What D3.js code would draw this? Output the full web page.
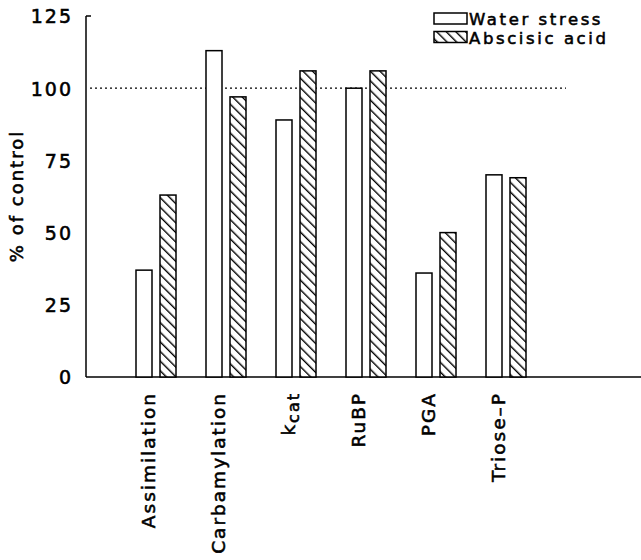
<!DOCTYPE html>
<html>
<head>
<meta charset="utf-8">
<script src="https://cdn.jsdelivr.net/npm/d3@7"></script>
<style>
  body { margin: 0; background: #fff; }
  text { font-family: "DejaVu Sans", sans-serif; fill: #000; stroke: #000; stroke-width: 0.55px; letter-spacing: 2px; }
</style>
</head>
<body>
<div class="chart"></div>
<script>
var svgWidth = 641;
var svgHeight = 560;

// data
var categories = ["Assimilation", "Carbamylation", "kcat", "RuBP", "PGA", "Triose–P"];
var waterStress = [37, 113, 89, 100, 36, 70];
var abscisicAcid = [63, 97, 106, 106, 50, 69];
var yTicks = [0, 25, 50, 75, 100, 125];

var margin = { top: 16, left: 86, bottom: 183 };
var plotBottom = svgHeight - margin.bottom;

var svg = d3.select(".chart")
  .append("svg")
  .attr("width", svgWidth)
  .attr("height", svgHeight);

// "\" hatching
var defs = svg.append("defs");
var pat = defs.append("pattern")
  .attr("id", "hatch")
  .attr("patternUnits", "userSpaceOnUse")
  .attr("width", 6.8)
  .attr("height", 6.8)
  .attr("patternTransform", "rotate(-45)");
pat.append("rect").attr("width", 6.8).attr("height", 6.8).attr("fill", "#fff");
pat.append("line")
  .attr("x1", 0).attr("y1", 0).attr("x2", 0).attr("y2", 6.8)
  .attr("stroke", "#000").attr("stroke-width", 2.8);

var y = d3.scaleLinear()
  .domain([0, 125])
  .range([plotBottom, margin.top]);

var x = d3.scaleBand()
  .domain(categories)
  .range([margin.left + 35, margin.left + 35 + 70 * categories.length]);

// y axis
var yAxis = svg.append("g")
  .attr("transform", `translate(${margin.left},0)`)
  .call(d3.axisLeft(y).tickValues(yTicks).tickSize(0).tickPadding(13));
yAxis.select(".domain").remove();
yAxis.selectAll("text")
  .style("font-size", "19px")
  .style("font-family", "DejaVu Sans, sans-serif")
  .attr("dy", "0.36em");

svg.append("line")
  .attr("x1", margin.left).attr("x2", margin.left)
  .attr("y1", y(125)).attr("y2", plotBottom)
  .attr("stroke", "#000").attr("stroke-width", 1.5);
svg.append("line")
  .attr("x1", margin.left).attr("x2", margin.left + 5)
  .attr("y1", y(125)).attr("y2", y(125))
  .attr("stroke", "#000").attr("stroke-width", 1.5);

// x axis line
svg.append("line")
  .attr("x1", margin.left).attr("x2", svgWidth)
  .attr("y1", plotBottom).attr("y2", plotBottom)
  .attr("stroke", "#000").attr("stroke-width", 1.5);

// reference line at 100
svg.append("line")
  .attr("x1", margin.left + 4).attr("x2", 566)
  .attr("y1", y(100)).attr("y2", y(100))
  .attr("stroke", "#000").attr("stroke-width", 1.2)
  .attr("stroke-dasharray", "2,3");

var barW = 16;
var gap = 8;

// water stress bars
svg.selectAll(".ws")
  .data(waterStress)
  .enter()
  .append("rect")
  .attr("class", "ws")
  .attr("x", (d, i) => x(categories[i]) + x.bandwidth() / 2 - gap / 2 - barW)
  .attr("y", d => y(d))
  .attr("width", barW)
  .attr("height", d => plotBottom - y(d))
  .attr("fill", "#fff")
  .attr("stroke", "#000")
  .attr("stroke-width", 1.5);

// abscisic acid bars
svg.selectAll(".aba")
  .data(abscisicAcid)
  .enter()
  .append("rect")
  .attr("class", "aba")
  .attr("x", (d, i) => x(categories[i]) + x.bandwidth() / 2 + gap / 2)
  .attr("y", d => y(d))
  .attr("width", barW)
  .attr("height", d => plotBottom - y(d))
  .attr("fill", "url(#hatch)")
  .attr("stroke", "#000")
  .attr("stroke-width", 1.5);

// category labels
var labels = svg.selectAll(".cat")
  .data(categories)
  .enter()
  .append("text")
  .attr("class", "cat")
  .attr("transform", d => `translate(${x(d) + x.bandwidth() / 2 - 1},${plotBottom + 15}) rotate(-90)`)
  .attr("text-anchor", "end")
  .style("font-size", "18.5px");
labels.each(function(d) {
  var t = d3.select(this);
  if (d === "kcat") {
    t.append("tspan").text("k");
    t.append("tspan").attr("dy", 4).style("font-size", "16px").text("cat");
  } else {
    t.text(d);
  }
});

// y title
svg.append("text")
  .attr("transform", `translate(23,196) rotate(-90)`)
  .attr("text-anchor", "middle")
  .style("font-size", "18px")
  .text("% of control");

// legend
var legend = svg.append("g");
var legendItems = [
  { label: "Water stress", fill: "#fff" },
  { label: "Abscisic acid", fill: "url(#hatch)" }
];
legendItems.forEach((item, i) => {
  legend.append("rect")
    .attr("x", 434).attr("y", 13 + i * 18.5)
    .attr("width", 33).attr("height", 11)
    .attr("fill", item.fill)
    .attr("stroke", "#000").attr("stroke-width", 1.5);
  legend.append("text")
    .attr("x", 469).attr("y", 25 + i * 18.5)
    .style("font-size", "16.5px")
    .style("letter-spacing", "2.6px")
    .text(item.label);
});
</script>
</body>
</html>
